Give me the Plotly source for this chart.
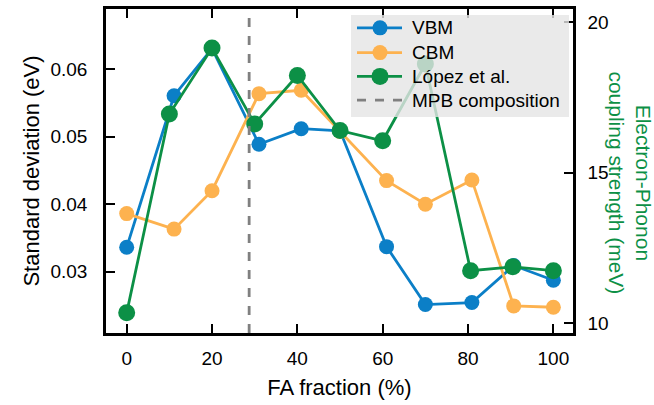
import plotly.graph_objects as go

# ---- data ----
fa_dft = [0, 11.1, 20, 31.0, 40.9, 50, 60.9, 70, 80.9, 90.7, 100]
vbm = [0.0336, 0.0561, 0.0631, 0.0489, 0.0512, 0.0509, 0.0337, 0.0251, 0.0254, 0.0309, 0.0287]
cbm = [0.0386, 0.0363, 0.0420, 0.0564, 0.0569, 0.0508, 0.0435, 0.0400, 0.0436, 0.0249, 0.0247]
fa_lopez = [0, 10, 20, 30, 40, 50, 60, 70, 80.6, 90.5, 100]
lopez = [10.34, 16.95, 19.14, 16.62, 18.23, 16.40, 16.06, 18.61, 11.74, 11.87, 11.74]
mpb_composition = 28.7

series_names = ["VBM", "CBM", "López et al.", "MPB composition"]

x_ticks = [0, 20, 40, 60, 80, 100]
y_ticks = [0.03, 0.04, 0.05, 0.06]
y2_ticks = [10, 15, 20]

x_range = [-4.85, 104.6]
y_range = [0.02088, 0.06897]
y2_range = [9.67, 20.44]

BLUE = "#0b7fc7"
ORANGE = "#fdb24f"
GREEN = "#0c9046"
GRAY = "#808080"
FONT = "Liberation Sans, Arial, sans-serif"

W, H = 654, 405
L, R, T, B = 106, 81, 6, 72


def px_x(p):
    return (p - L) / (W - L - R)


def px_y(p):
    return (H - B - p) / (H - B - T)


fig = go.Figure()
fig.add_trace(go.Scatter(x=fa_dft, y=vbm, name=series_names[0], mode="lines+markers",
                         line=dict(color=BLUE, width=2.8),
                         marker=dict(color=BLUE, size=15)))
fig.add_trace(go.Scatter(x=fa_dft, y=cbm, name=series_names[1], mode="lines+markers",
                         line=dict(color=ORANGE, width=2.8),
                         marker=dict(color=ORANGE, size=15)))
fig.add_trace(go.Scatter(x=fa_lopez, y=lopez, name=series_names[2], mode="lines+markers",
                         line=dict(color=GREEN, width=2.8),
                         marker=dict(color=GREEN, size=17), yaxis="y2"))
fig.add_trace(go.Scatter(x=[mpb_composition, mpb_composition], y=y2_range,
                         name=series_names[3], mode="lines",
                         line=dict(color=GRAY, width=2.8, dash="dash"),
                         yaxis="y2"))

axis_common = dict(showline=True, linecolor="black", linewidth=2.5,
                   ticks="inside", ticklen=9, tickwidth=1.8, tickcolor="black",
                   showgrid=False, zeroline=False,
                   tickfont=dict(family=FONT, size=19, color="black"))

# ---- custom legend (drawn above traces) ----
shapes = []
annotations = []
shapes.append(dict(type="rect", xref="paper", yref="paper",
                   x0=px_x(351), x1=px_x(569), y0=px_y(115), y1=px_y(12),
                   fillcolor="rgba(229,229,229,0.8)", line=dict(width=0), layer="above"))
legend_colors = [BLUE, ORANGE, GREEN, GRAY]
legend_marker = [15, 15, 17, None]
row_y = [25, 50, 74, 98]
for name, col, msz, ry in zip(series_names, legend_colors, legend_marker, row_y):
    shapes.append(dict(type="line", xref="paper", yref="paper",
                       x0=px_x(357), x1=px_x(402), y0=px_y(ry), y1=px_y(ry),
                       line=dict(color=col, width=2.8, dash="dash" if msz is None else "solid"),
                       layer="above"))
    if msz is not None:
        r = msz / 2
        shapes.append(dict(type="circle", xref="paper", yref="paper",
                           xsizemode="pixel", ysizemode="pixel",
                           xanchor=px_x(380), yanchor=px_y(ry),
                           x0=-r, x1=r, y0=-r, y1=r,
                           fillcolor=col, line=dict(width=0), layer="above"))
    annotations.append(dict(text=name, xref="paper", yref="paper",
                            x=px_x(410), y=px_y(ry), xanchor="left", yanchor="middle",
                            showarrow=False,
                            font=dict(family=FONT, size=19, color="black")))

annotations.append(dict(text="Electron-Phonon<br>coupling strength (meV)",
                        x=px_x(630), y=px_y(181),
                        xref="paper", yref="paper", xanchor="center", yanchor="middle",
                        textangle=90, showarrow=False,
                        font=dict(family=FONT, size=21, color=GREEN)))

fig.update_layout(
    width=W, height=H,
    margin=dict(l=L, r=R, t=T, b=B),
    paper_bgcolor="white", plot_bgcolor="white",
    font=dict(family=FONT, size=19, color="black"),
    showlegend=False,
    xaxis=dict(range=x_range, tickvals=x_ticks, mirror="ticks",
               title=dict(text="FA fraction (%)", font=dict(family=FONT, size=22, color="black"), standoff=13),
               ticklabelstandoff=6, **axis_common),
    yaxis=dict(range=y_range, tickvals=y_ticks, tickformat=".2f",
               title=dict(text="Standard deviation (eV)", font=dict(family=FONT, size=22, color="black"), standoff=5),
               ticklabelstandoff=12, **axis_common),
    yaxis2=dict(range=y2_range, tickvals=y2_ticks, overlaying="y", side="right",
                ticklabelstandoff=8, **axis_common),
    shapes=shapes,
    annotations=annotations,
)

fig.write_html("out.html")
